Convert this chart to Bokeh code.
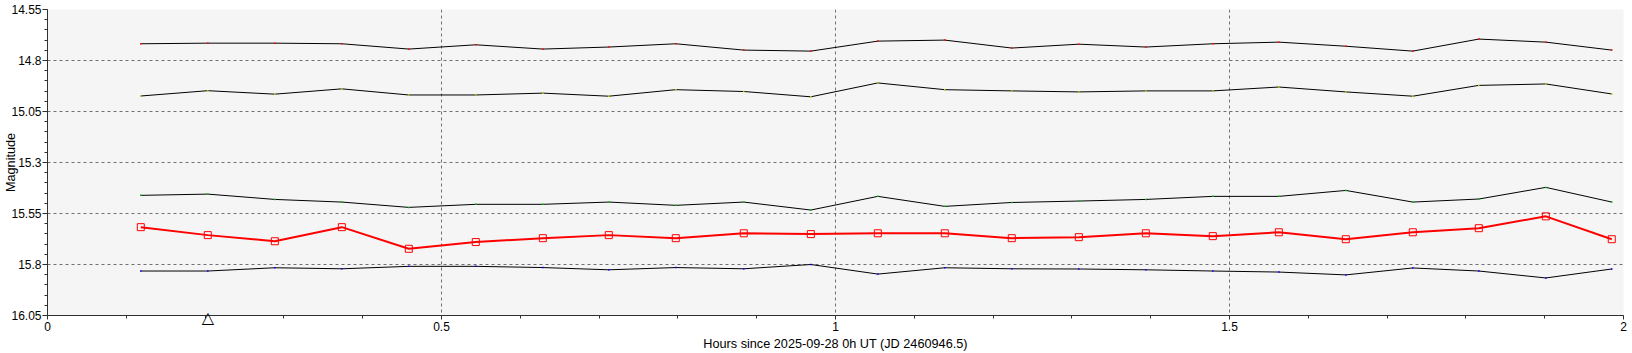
from bokeh.plotting import figure
from bokeh.models import Range1d, FixedTicker, NumeralTickFormatter, LinearAxis
from bokeh.embed import file_html
from bokeh.resources import INLINE
import numpy as np

# ---- data ----
hours = [0.1184, 0.2034, 0.2885, 0.3735, 0.4585, 0.5435, 0.6286, 0.7123, 0.7973,
         0.8836, 0.9687, 1.0537, 1.1387, 1.2237, 1.3088, 1.3938, 1.4788, 1.5626,
         1.6476, 1.7326, 1.8164, 1.9014, 1.9851]
target = [15.617, 15.656, 15.686, 15.617, 15.723, 15.690, 15.671, 15.656, 15.671,
          15.647, 15.651, 15.647, 15.647, 15.671, 15.666, 15.647, 15.661, 15.642,
          15.676, 15.642, 15.622, 15.564, 15.676]
comp1 = [14.718, 14.715, 14.715, 14.718, 14.744, 14.723, 14.744, 14.734, 14.718,
         14.749, 14.754, 14.705, 14.700, 14.739, 14.720, 14.734, 14.718, 14.710,
         14.730, 14.754, 14.695, 14.710, 14.749]
comp2 = [14.974, 14.948, 14.965, 14.939, 14.969, 14.969, 14.960, 14.975, 14.943,
         14.952, 14.978, 14.910, 14.943, 14.949, 14.954, 14.949, 14.949, 14.930,
         14.954, 14.975, 14.922, 14.915, 14.964]
comp3 = [15.461, 15.455, 15.481, 15.494, 15.520, 15.505, 15.505, 15.494, 15.510,
         15.494, 15.533, 15.466, 15.515, 15.496, 15.489, 15.481, 15.466, 15.466,
         15.437, 15.494, 15.479, 15.422, 15.494]
comp4 = [15.832, 15.832, 15.816, 15.821, 15.809, 15.809, 15.815, 15.826, 15.815,
         15.821, 15.800, 15.847, 15.816, 15.821, 15.822, 15.826, 15.832, 15.837,
         15.851, 15.817, 15.832, 15.866, 15.822]
comp_dot_colors = ["#ff0000", "#c8c800", "#00c000", "#0000ff"]

x_ticks = [0, 0.5, 1, 1.5, 2]
y_ticks = [14.55, 14.8, 15.05, 15.3, 15.55, 15.8, 16.05]
mark_time = [0.2034]
mark_symbol = "\u25b3"

x_label = "Hours since 2025-09-28 0h UT (JD 2460946.5)"
y_label = "Magnitude"

FONT = "Liberation Sans"

p = figure(width=1632, height=353, output_backend="svg", toolbar_location=None,
           x_range=Range1d(x_ticks[0], x_ticks[-1]),
           y_range=Range1d(y_ticks[-1], y_ticks[0]),
           min_border_left=47, min_border_right=9, min_border_top=9,
           min_border_bottom=36)
p.background_fill_color = "#f5f5f5"
p.border_fill_color = "white"
p.outline_line_color = None

x_minor = [round(v, 2) for v in np.arange(0, 2.0001, 0.1)]
y_minor = [round(v, 2) for v in np.arange(14.55, 16.0501, 0.05)]
p.xaxis.ticker = FixedTicker(ticks=x_ticks, minor_ticks=x_minor)
p.yaxis.ticker = FixedTicker(ticks=y_ticks, minor_ticks=y_minor)
p.xaxis.formatter = NumeralTickFormatter(format="0.[00]")
p.yaxis.formatter = NumeralTickFormatter(format="0.[00]")

for ax in (p.xaxis[0], p.yaxis[0]):
    ax.axis_line_color = "#303030"
    ax.major_tick_line_color = "#303030"
    ax.minor_tick_line_color = "#303030"
    ax.major_tick_in = 0
    ax.minor_tick_in = 0
    ax.major_label_text_font = FONT
    ax.major_label_text_font_size = "12px"
    ax.major_label_text_color = "#000000"
    ax.axis_label_text_font = FONT
    ax.axis_label_text_font_size = "12.7px"
    ax.axis_label_text_font_style = "normal"
    ax.axis_label_text_color = "#000000"

p.yaxis.axis_label = y_label
p.yaxis.major_tick_out = 5
p.yaxis.minor_tick_out = 3
p.yaxis.major_label_standoff = 1
p.yaxis.axis_label_standoff = -10

p.xaxis.major_tick_out = 4
p.xaxis.minor_tick_out = 3
p.xaxis.major_label_standoff = 2

# second bottom axis: time marker and the x-axis title
mark_axis = LinearAxis(
    ticker=FixedTicker(ticks=mark_time),
    major_label_overrides={t: mark_symbol for t in mark_time},
    axis_line_color=None, major_tick_line_color=None, minor_tick_line_color=None,
    major_tick_in=0, major_tick_out=0, minor_tick_in=0, minor_tick_out=0,
    major_label_standoff=-26,
    major_label_text_font="DejaVu Sans", major_label_text_font_size="16px",
    major_label_text_color="black",
    axis_label=x_label, axis_label_standoff=7,
    axis_label_text_font=FONT, axis_label_text_font_size="12.7px",
    axis_label_text_font_style="normal", axis_label_text_color="black")
p.add_layout(mark_axis, "below")

p.xgrid.ticker = FixedTicker(ticks=x_ticks)
p.ygrid.ticker = FixedTicker(ticks=y_ticks)
for g in (p.xgrid[0], p.ygrid[0]):
    g.grid_line_color = "#707070"
    g.grid_line_dash = "3 3"
    g.grid_line_width = 1

# comparison stars
for series, dc in zip([comp1, comp2, comp3, comp4], comp_dot_colors):
    p.line(hours, series, line_color="black", line_width=1)
    p.scatter(hours, series, marker="square", size=1.5, fill_color=dc,
              line_color=None)

# target
p.line(hours, target, line_color="#ff0000", line_width=2)
p.scatter(hours, target, marker="square", size=7, fill_color=None,
          line_color="#ff0000", line_width=1)

open("out.html", "w").write(file_html(p, INLINE))
